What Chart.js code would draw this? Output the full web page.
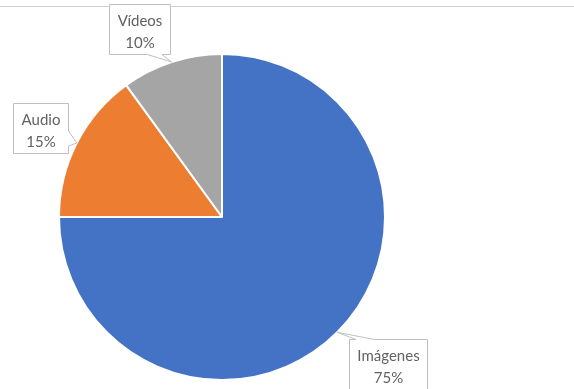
<!DOCTYPE html>
<html>
<head>
<meta charset="utf-8">
<script src="https://cdn.jsdelivr.net/npm/chart.js@4"></script>
<style>
  html, body { margin: 0; padding: 0; background: #ffffff; }
  #wrap { width: 574px; height: 389px; position: relative; }
</style>
</head>
<body>
<div id="wrap"><canvas id="c" width="574" height="389"></canvas></div>
<script>
// Share of content type
const categories = ['Imágenes', 'Audio', 'Vídeos'];
const values = [75, 15, 10];
const sliceColors = ['#4472C4', '#ED7D31', '#A5A5A5'];

// Callout placement for each slice: box centre offset from the slice's rim point,
// and which box edge carries the pointer (with the span along that edge, as fractions).
const calloutOffsets = [[51, 32], [-36.5, -15], [-32, -33]];
const calloutTails = [['top', 0.08, 0.32], ['right', 0.55, 0.85], ['bottom', 0.62, 0.86]];

const FONT = '15px Lato, "Open Sans", sans-serif';

const topRule = {
  id: 'topRule',
  beforeDraw(chart) {
    const ctx = chart.ctx;
    ctx.save();
    ctx.strokeStyle = '#CFCFCF';
    ctx.lineWidth = 1;
    ctx.beginPath();
    ctx.moveTo(0, 6.5);
    ctx.lineTo(chart.width, 6.5);
    ctx.stroke();
    ctx.restore();
  }
};

function calloutPath(ctx, l, t, w, h, tail, tip) {
  const [edge, a, b] = tail;
  const r = l + w, btm = t + h;
  ctx.beginPath();
  ctx.moveTo(l, t);
  if (edge === 'top') {
    ctx.lineTo(l + w * a, t); ctx.lineTo(tip.x, tip.y); ctx.lineTo(l + w * b, t);
  }
  ctx.lineTo(r, t);
  if (edge === 'right') {
    ctx.lineTo(r, t + h * a); ctx.lineTo(tip.x, tip.y); ctx.lineTo(r, t + h * b);
  }
  ctx.lineTo(r, btm);
  if (edge === 'bottom') {
    ctx.lineTo(l + w * b, btm); ctx.lineTo(tip.x, tip.y); ctx.lineTo(l + w * a, btm);
  }
  ctx.lineTo(l, btm);
  if (edge === 'left') {
    ctx.lineTo(l, t + h * b); ctx.lineTo(tip.x, tip.y); ctx.lineTo(l, t + h * a);
  }
  ctx.closePath();
}

const callouts = {
  id: 'callouts',
  afterDatasetsDraw(chart) {
    const ctx = chart.ctx;
    const meta = chart.getDatasetMeta(0);
    const data = chart.data.datasets[0].data;
    const total = data.reduce((s, v) => s + v, 0);
    ctx.save();
    ctx.font = FONT;
    meta.data.forEach((arc, i) => {
      const p = arc.getProps(['x', 'y', 'startAngle', 'endAngle', 'outerRadius'], true);
      const mid = (p.startAngle + p.endAngle) / 2;
      const tip = { x: p.x + Math.cos(mid) * p.outerRadius, y: p.y + Math.sin(mid) * p.outerRadius };
      const name = chart.data.labels[i];
      const pct = Math.round(data[i] / total * 100) + '%';
      const w = Math.round(Math.max(ctx.measureText(name).width, ctx.measureText(pct).width) + 16);
      const h = 50;
      const cx = tip.x + calloutOffsets[i][0];
      const cy = tip.y + calloutOffsets[i][1];
      const l = Math.round(cx - w / 2) + 0.5;
      const t = Math.round(cy - h / 2) + 0.5;
      calloutPath(ctx, l, t, w, h, calloutTails[i], tip);
      ctx.fillStyle = '#FFFFFF';
      ctx.fill();
      ctx.strokeStyle = '#BFBFBF';
      ctx.lineWidth = 1;
      ctx.stroke();
      ctx.fillStyle = '#626262';
      ctx.textAlign = 'center';
      ctx.textBaseline = 'middle';
      ctx.fillText(name, l + w / 2, t + h / 2 - 8.5);
      ctx.fillText(pct, l + w / 2, t + h / 2 + 13.5);
    });
    ctx.restore();
  }
};

new Chart(document.getElementById('c'), {
  type: 'pie',
  data: {
    labels: categories,
    datasets: [{
      data: values,
      backgroundColor: sliceColors,
      borderColor: '#FFFFFF',
      borderWidth: 2,
      hoverOffset: 0
    }]
  },
  options: {
    responsive: false,
    animation: false,
    radius: 163,
    layout: { padding: { left: 59, right: 189, top: 54, bottom: 9 } },
    plugins: {
      legend: { display: false },
      tooltip: { enabled: false }
    },
    events: []
  },
  plugins: [topRule, callouts]
});
</script>
</body>
</html>
